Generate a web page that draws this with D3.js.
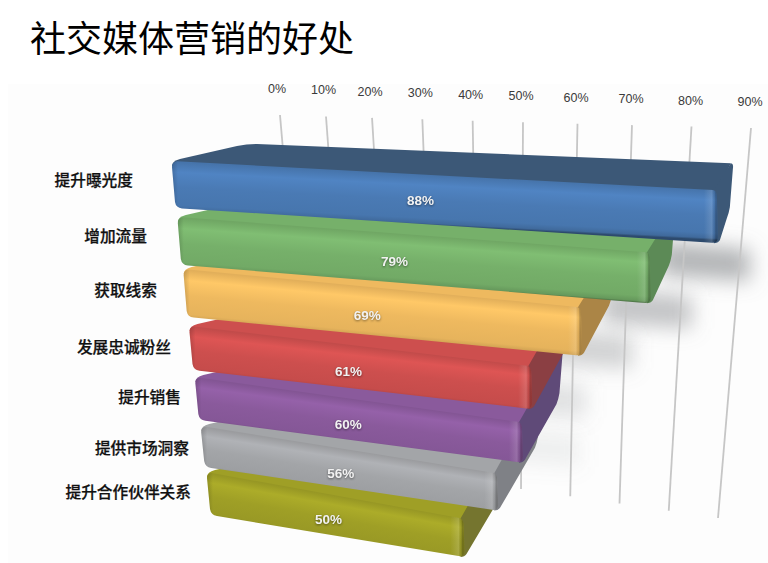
<!DOCTYPE html>
<html>
<head>
<meta charset="utf-8">
<script src="https://d3js.org/d3.v7.min.js"></script>
<style>
  html, body { margin: 0; padding: 0; background: #fff; }
  svg { display: block; }
</style>
</head>
<body>
<div id="chart"></div>
<script>
const title = '社交媒体营销的好处';
const categories = ['提升曝光度', '增加流量', '获取线索', '发展忠诚粉丝', '提升销售', '提供市场洞察', '提升合作伙伴关系'];
const values = [88, 79, 69, 61, 60, 56, 50];
const ticks = [0, 10, 20, 30, 40, 50, 60, 70, 80, 90];
const baseColors = ['#4a7ab4', '#76b06a', '#eeb95f', '#cd4f4e', '#8a5a9c', '#a3a5a8', '#9f9f26'];
const sideColors = ['#3c5877', '#5c8a56', '#ab8546', '#8b3f43', '#5f4a78', '#7f8186', '#75752f'];

const width = 768;
const height = 563;
const rows = d3.range(categories.length);

const svg = d3.select('#chart').append('svg')
    .attr('width', width)
    .attr('height', height);
const defs = svg.append('defs');

// the gridlines sit on a plane seen in perspective, so spacing grows to the right
const xGridTop = d3.scaleLinear().domain([0, 20, 50, 70, 90]).range([280, 372, 523, 632, 751]);
const yGridTop = d3.scaleLinear().domain([0, 90]).range([115, 128]);
const xGridBottom = d3.scaleLinear().domain([0, 50, 90]).range([309, 521, 718]);
const yGridBottom = d3.scaleLinear().domain([0, 90]).range([453, 518]);
const xTickLabel = d3.scaleLinear().domain([0, 20, 50, 70, 90]).range([277, 370, 521, 631, 750]);
const yTickLabel = d3.scaleLinear().domain([0, 90]).range([89, 102]);

// row scales, one value per bar from the back row (0) to the front row
const xLeft = d3.scaleLinear().domain([0, 6]).range([172, 207]);
const x100 = d3.scaleLinear().domain([0, 2, 6]).range([790, 758, 718]);
const yTopLeft = d3.scaleLinear().domain(rows).range([162, 218, 270, 327, 378, 427, 473]);
const yBottomLeft = d3.scaleLinear().domain(rows).range([208, 265, 317, 370, 420, 467, 515]);
const slopeTop = d3.scaleLinear().domain([0, 6]).range([0.052, 0.178]);
const slopeBottom = d3.scaleLinear().domain([0, 6]).range([0.065, 0.166]);
const sideDx = d3.scaleLinear().domain([0, 2, 6]).range([13, 31, 44]);
const sideDy = d3.scaleLinear().domain([0, 2, 6]).range([-30, -55, -72]);
const valueFraction = d3.scaleLinear().domain([0, 6]).range([0.457, 0.476]);
const valueShift = d3.scaleLinear().domain([0, 2, 6]).range([1, 4.5, 5]);
const shadowOpacity = d3.scaleLinear().domain([0, 4, 5]).range([0.62, 0.12, 0]).clamp(true);

const labelRight = d3.scaleOrdinal(categories, [133, 147, 157, 171, 181, 189, 191]);
const labelY = d3.scaleOrdinal(categories, [179, 235, 289, 346, 396, 447, 491]);

function barGeometry(i) {
    const left = xLeft(i);
    const right = d3.scaleLinear().domain([0, 100]).range([left, x100(i)])(values[i]);
    const g = {
        left: left,
        right: right,
        tl: [left, yTopLeft(i)],
        bl: [left + 4, yBottomLeft(i)],
        tr: [right, yTopLeft(i) + slopeTop(i) * (right - left)],
        br: [right + 1, yBottomLeft(i) + slopeBottom(i) * (right - left - 3)]
    };
    g.bb = [g.br[0] + sideDx(i), g.br[1] + sideDy(i)];
    g.bt = [g.bb[0] + 3, g.bb[1] - 50];
    g.backLeft = [left + 81, yTopLeft(i) - 18];
    return g;
}
const bars = rows.map(barGeometry);

function frontPath(g, i) {
    const p = d3.path();
    const s1 = slopeTop(i);
    const s2 = slopeBottom(i);
    p.moveTo(g.tl[0] + 5, g.tl[1] + s1 * 5 - 1);
    p.lineTo(g.tr[0] - 3, g.tr[1] - s1 * 3);
    p.quadraticCurveTo(g.tr[0], g.tr[1], g.tr[0] + 1, g.tr[1] + 5);
    p.lineTo(g.br[0] + 1, g.br[1] - 6);
    p.quadraticCurveTo(g.br[0] + 1, g.br[1], g.br[0] - 5, g.br[1] - s2 * 5);
    p.lineTo(g.bl[0] + 6, g.bl[1] + s2 * 6);
    p.quadraticCurveTo(g.bl[0], g.bl[1], g.bl[0] - 1, g.bl[1] - 6);
    p.lineTo(g.tl[0], g.tl[1] + 5);
    p.quadraticCurveTo(g.tl[0], g.tl[1], g.tl[0] + 5, g.tl[1] + s1 * 5 - 1);
    p.closePath();
    return p.toString();
}

function sidePath(g) {
    const p = d3.path();
    p.moveTo(g.tr[0] - 2, g.tr[1]);
    p.lineTo(g.bt[0] - 2, g.bt[1]);
    p.quadraticCurveTo(g.bt[0] + 1, g.bt[1], g.bt[0], g.bt[1] + 6);
    p.lineTo(g.bb[0], g.bb[1] - 6);
    p.quadraticCurveTo(g.bb[0] - 1, g.bb[1], g.bb[0] - 3, g.bb[1] + 5);
    p.lineTo(g.br[0] + 3, g.br[1] - 3);
    p.quadraticCurveTo(g.br[0] + 1, g.br[1], g.br[0] - 3, g.br[1]);
    p.closePath();
    return p.toString();
}

function topPath(g) {
    const p = d3.path();
    p.moveTo(g.tl[0], g.tl[1] + 4);
    p.quadraticCurveTo(g.tl[0], g.tl[1] - 1, g.tl[0] + 8, g.tl[1] - 3);
    p.lineTo(g.backLeft[0] - 16, g.backLeft[1] + 2);
    p.quadraticCurveTo(g.backLeft[0] - 6, g.backLeft[1], g.backLeft[0] + 4, g.backLeft[1]);
    p.lineTo(g.bt[0] - 2, g.bt[1]);
    p.lineTo(g.tr[0], g.tr[1] + 3);
    p.closePath();
    return p.toString();
}

// the face shading runs across the bar, square to its tilted edge
function addFaceGradient(g, i) {
    const s = slopeTop(i);
    const h = g.bl[1] - g.tl[1] + 4;
    const base = d3.rgb(baseColors[i]);
    const stops = [
        [0, base.darker(0.15)],
        [0.2, base.brighter(0.22)],
        [0.5, base],
        [0.86, base.darker(0.1)],
        [0.96, base.darker(0.4)],
        [1, base.darker(1.4)]
    ];
    const grad = defs.append('linearGradient')
        .attr('id', 'face' + i)
        .attr('gradientUnits', 'userSpaceOnUse')
        .attr('x1', g.left)
        .attr('y1', g.tl[1])
        .attr('x2', g.left - s * h / (1 + s * s))
        .attr('y2', g.tl[1] + h / (1 + s * s));
    grad.selectAll('stop').data(stops).enter().append('stop')
        .attr('offset', (d) => d[0])
        .attr('stop-color', (d) => d[1].formatHex());

    // rounded ends of the bar
    const span = g.right - g.left;
    const ends = [
        [0, '#000', 0.16],
        [6 / span, '#000', 0],
        [1 - 12 / span, '#fff', 0],
        [1 - 4 / span, '#fff', 0.14],
        [1 - 1.5 / span, '#000', 0.08],
        [1, '#000', 0.28]
    ];
    const endGrad = defs.append('linearGradient')
        .attr('id', 'ends' + i)
        .attr('gradientUnits', 'userSpaceOnUse')
        .attr('x1', g.left)
        .attr('y1', 0)
        .attr('x2', g.right)
        .attr('y2', 0);
    endGrad.selectAll('stop').data(ends).enter().append('stop')
        .attr('offset', (d) => d[0])
        .attr('stop-color', (d) => d[1])
        .attr('stop-opacity', (d) => d[2]);
}
rows.forEach((i) => addFaceGradient(bars[i], i));

const blur = defs.append('filter')
    .attr('id', 'soft')
    .attr('x', '-60%').attr('y', '-100%')
    .attr('width', '220%').attr('height', '300%');
blur.append('feGaussianBlur').attr('stdDeviation', 10);

// paper of the pasted picture
svg.append('rect')
    .attr('x', 8).attr('y', 84)
    .attr('width', width - 8).attr('height', height - 84)
    .attr('fill', '#fdfdfd');

// soft shadow thrown to the lower right of each bar end
svg.append('g').selectAll('path')
    .data(rows)
    .enter()
    .append('path')
    .attr('d', (i) => {
        const g = bars[i];
        const top = g.bb[1] + 36;
        return d3.line()([
            [g.bb[0] - 70, top - 8],
            [g.bb[0] + 20, top],
            [g.bb[0] + 20, top + 32],
            [g.bb[0] - 70, top + 26]
        ]) + 'Z';
    })
    .attr('fill', '#85888b')
    .attr('fill-opacity', (i) => shadowOpacity(i))
    .attr('filter', 'url(#soft)');

// gridlines
svg.append('g').selectAll('line')
    .data(ticks)
    .enter()
    .append('line')
    .attr('x1', (d) => xGridTop(d))
    .attr('y1', (d) => yGridTop(d))
    .attr('x2', (d) => xGridBottom(d))
    .attr('y2', (d) => yGridBottom(d))
    .attr('stroke', '#c6c6c6')
    .attr('stroke-width', 1.8);

svg.append('g').selectAll('text')
    .data(ticks)
    .enter()
    .append('text')
    .attr('x', (d) => xTickLabel(d))
    .attr('y', (d) => yTickLabel(d))
    .attr('text-anchor', 'middle')
    .attr('dominant-baseline', 'central')
    .style('font-family', '"Liberation Sans", sans-serif')
    .style('font-size', '12.5px')
    .style('fill', '#3a3a3a')
    .text((d) => d + '%');

// bars, front row first so each bar overlaps the one below it in the picture
const barGroups = svg.append('g').selectAll('g')
    .data(rows.slice().reverse())
    .enter()
    .append('g');

barGroups.append('path')
    .attr('d', (i) => topPath(bars[i]))
    .attr('fill', (i) => i === 0 ? sideColors[i] : baseColors[i]);

barGroups.append('path')
    .attr('d', (i) => sidePath(bars[i]))
    .attr('fill', (i) => sideColors[i]);

barGroups.append('path')
    .attr('d', (i) => frontPath(bars[i], i))
    .attr('fill', (i) => `url(#face${i})`);

barGroups.append('path')
    .attr('d', (i) => frontPath(bars[i], i))
    .attr('fill', (i) => `url(#ends${i})`);

// value labels
barGroups.append('text')
    .attr('x', (i) => bars[i].left + valueFraction(i) * (bars[i].right - bars[i].left))
    .attr('y', (i) => {
        const dx = valueFraction(i) * (bars[i].right - bars[i].left);
        return (yTopLeft(i) + slopeTop(i) * dx + yBottomLeft(i) + slopeBottom(i) * dx) / 2 + valueShift(i);
    })
    .attr('text-anchor', 'middle')
    .attr('dominant-baseline', 'central')
    .style('font-family', '"Liberation Sans", sans-serif')
    .style('font-size', '13.5px')
    .style('font-weight', 'bold')
    .style('fill', '#f2f2f2')
    .style('filter', 'drop-shadow(0 1px 1px rgba(0,0,0,0.45))')
    .text((i) => values[i] + '%');

// category labels
svg.append('g').selectAll('text')
    .data(categories)
    .enter()
    .append('text')
    .attr('x', (d) => labelRight(d))
    .attr('y', (d) => labelY(d))
    .attr('text-anchor', 'end')
    .attr('dominant-baseline', 'central')
    .style('font-family', '"Noto Sans CJK SC", sans-serif')
    .style('font-size', '15.7px')
    .style('font-weight', '500')
    .style('fill', '#111')
    .style('stroke', '#111')
    .style('stroke-width', 0.25)
    .text((d) => d);

svg.append('text')
    .attr('x', 30)
    .attr('y', 52)
    .style('font-family', '"Noto Sans CJK SC", sans-serif')
    .style('font-size', '36px')
    .style('font-weight', '400')
    .style('fill', '#000')
    .text(title);
</script>
</body>
</html>
